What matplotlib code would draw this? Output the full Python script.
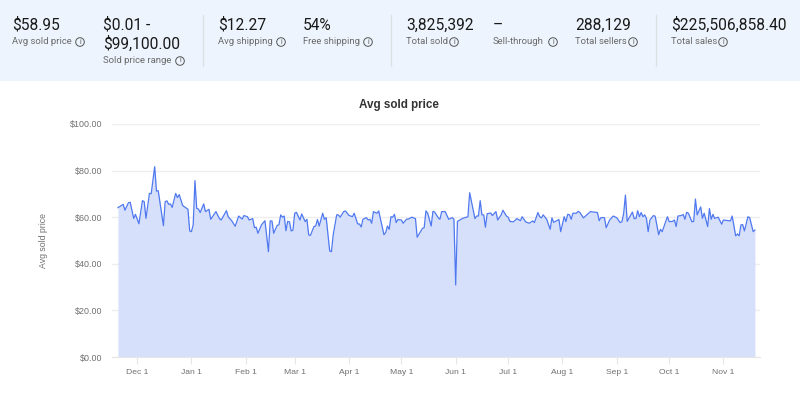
import numpy as np
import pandas as pd
import matplotlib
matplotlib.use("Agg")
import matplotlib.pyplot as plt
from matplotlib.patches import Rectangle, Circle

# values, day 0 = first day of the range
start_date = "2022-11-20"
days = [0, 3, 4, 6, 7, 9, 10, 12, 14, 15, 16, 18, 19, 21, 22, 23, 26, 27, 28, 29, 30, 31, 33, 34, 35, 37, 40, 41, 42, 43, 44, 45, 46, 47, 49, 50, 52, 53, 56, 58, 59, 62, 63, 65, 67, 69, 71, 72, 74, 75, 77, 78, 79, 80, 82, 84, 86, 87, 88, 89, 91, 92, 93, 94, 95, 96, 97, 98, 99, 100, 101, 102, 104, 105, 107, 108, 109, 110, 112, 113, 114, 115,
        117, 118, 119, 121, 122, 123, 125, 126, 127, 129, 130, 132, 134, 135, 137, 138, 139, 140, 142, 143, 144, 145, 146, 147, 148, 149, 152, 153, 154, 155, 156, 157, 158, 159, 160, 162, 163, 165, 166, 168, 170, 171, 174, 175, 176, 177, 179, 180, 181, 183, 184, 185, 187, 189, 191, 192, 193, 194, 197, 200, 201, 203, 204, 205, 206, 207, 208, 209, 210, 211, 213, 214, 216, 217, 219, 220, 222, 223, 224, 226, 228, 230, 231, 233, 235, 237, 238, 240, 241,
        242, 243, 245, 247, 248, 249, 252, 253, 255, 256, 257, 258, 259, 260, 262, 263, 264, 266, 270, 274, 275, 276, 278, 279, 281, 283, 285, 287, 288, 289, 290, 291, 294, 295, 296, 297, 298, 299, 300, 301, 302, 303, 304, 306, 307, 309, 310, 311, 314, 315, 317, 318, 319, 320, 322, 323, 324, 325, 326, 328, 329, 330, 331, 333, 334, 335, 337, 338, 339, 340, 341, 343, 345, 346, 350, 351, 353, 354, 355, 356, 357, 358, 360, 361, 363, 364]
prices = [64.1, 65.5, 63.0, 66.2, 66.4, 59.5, 61.2, 57.2, 67.1, 66.7, 59.5, 70.2, 70.1, 81.7, 71.2, 71.4, 56.4, 66.7, 67.0, 65.5, 65.7, 64.2, 70.2, 68.4, 69.7, 65.0, 63.4, 54.1, 53.8, 56.7, 75.7, 63.8, 63.5, 62.0, 65.7, 62.4, 63.4, 59.1, 62.4, 59.4, 58.8, 62.8, 60.2, 58.5, 56.1, 60.5, 59.2, 60.7, 60.2, 58.8, 59.4, 55.5, 55.7, 53.1, 56.7, 58.5, 45.2, 58.4, 58.4, 53.1, 56.5, 56.7, 61.0, 60.0, 60.5, 54.2, 58.2, 58.0, 54.1, 54.4, 61.7, 62.1, 58.8, 61.4, 58.1, 59.1, 52.4, 52.2, 56.0, 56.2, 59.0, 56.2,
          61.7, 59.1, 59.8, 45.5, 45.2, 52.4, 61.0, 61.0, 60.0, 62.4, 62.7, 60.8, 60.2, 61.7, 57.1, 57.1, 55.8, 59.1, 59.8, 58.8, 59.1, 57.4, 62.4, 62.0, 61.7, 62.7, 52.5, 53.4, 56.2, 54.8, 60.2, 60.0, 61.2, 57.7, 59.0, 58.8, 57.4, 59.2, 59.2, 60.0, 59.4, 51.4, 55.2, 55.5, 62.7, 61.7, 56.2, 62.5, 62.2, 59.8, 59.1, 62.4, 62.4, 59.1, 59.8, 59.1, 30.9, 58.2, 59.5, 60.2, 70.5, 63.1, 59.4, 60.5, 60.5, 67.1, 61.0, 61.0, 55.7, 61.5, 61.8, 60.7, 62.4, 58.8, 61.0, 63.0, 60.5, 60.0, 58.2, 58.0, 59.4, 58.5, 60.2, 58.0, 57.4, 58.4, 57.7, 62.0, 60.2,
          59.7, 61.0, 59.1, 54.8, 59.7, 57.8, 59.0, 53.8, 60.2, 58.1, 61.2, 61.1, 59.1, 61.7, 61.7, 62.5, 62.0, 59.7, 62.4, 62.0, 58.5, 59.8, 59.8, 55.5, 58.8, 60.5, 59.8, 57.7, 58.0, 61.7, 69.5, 58.2, 62.2, 59.4, 59.4, 62.8, 60.2, 62.0, 60.2, 61.0, 59.5, 53.8, 58.8, 60.7, 60.4, 52.5, 54.8, 53.8, 60.2, 58.1, 58.2, 58.8, 56.0, 60.5, 60.7, 61.2, 59.1, 62.1, 61.7, 58.0, 58.2, 67.8, 61.0, 64.4, 59.5, 61.7, 56.0, 63.7, 59.1, 61.2, 59.5, 60.0, 57.0, 58.8, 58.4, 60.5, 52.0, 52.8, 52.0, 56.7, 56.8, 54.1, 60.2, 59.8, 53.8, 54.5]

month_ticks = ["2022-12-01", "2023-01-01", "2023-02-01", "2023-03-01", "2023-04-01", "2023-05-01",
               "2023-06-01", "2023-07-01", "2023-08-01", "2023-09-01", "2023-10-01", "2023-11-01"]
month_labels = ["Dec 1", "Jan 1", "Feb 1", "Mar 1", "Apr 1", "May 1", "Jun 1", "Jul 1", "Aug 1", "Sep 1", "Oct 1", "Nov 1"]
y_ticks = [0, 20, 40, 60, 80, 100]

stat_values = ["$58.95", "$0.01 -\n$99,100.00", "$12.27", "54%", "3,825,392", "\u2013", "288,129", "$225,506,858.40"]
stat_labels = ["Avg sold price", "Sold price range", "Avg shipping", "Free shipping", "Total sold", "Sell-through", "Total sellers", "Total sales"]

W, H = 800, 393
fig = plt.figure(figsize=(W / 100, H / 100), dpi=100, facecolor="white")

# header strip, drawn in pixel coordinates
top = fig.add_axes([0, 0, 1, 1], zorder=2)
top.set_xlim(0, W)
top.set_ylim(H, 0)
top.axis("off")
top.patch.set_alpha(0)
top.add_patch(Rectangle((0, 0), W, 81, color="#edf4fd", lw=0))
for x in [203, 391, 656]:
    top.plot([x, x], [15, 66], color="#dce1e6", lw=1)

stat_x = [12, 103, 218, 303, 406, 493, 575, 671]
icon_x = [80, 180, 281, 368, 454, 553, 633, 723]
for i in range(len(stat_values)):
    lines = stat_values[i].split("\n")
    for j, line in enumerate(lines):
        top.text(stat_x[i], 29.5 + 19 * j, line, fontsize=11.2, family="Roboto", color="#191919", va="baseline")
    ly = 41.5 + 19 * (len(lines) - 1)
    top.text(stat_x[i], ly, stat_labels[i], fontsize=6.8, family="Roboto", color="#6a6a6a", va="center")
    top.add_patch(Circle((icon_x[i], ly + 0.5), 4.3, fc="none", ec="#555555", lw=0.7))
    top.text(icon_x[i], ly + 0.5, "i", fontsize=5, family="Roboto", color="#555555", ha="center", va="center")

# chart
ax = fig.add_axes([112 / W, 1 - 357 / H, (760 - 112) / W, (357 - 124) / H])
dates = pd.Timestamp(start_date) + pd.to_timedelta(days, unit="D")
ax.fill_between(dates, prices, 0, color="#d6e0fb", lw=0, zorder=2)
ax.plot(dates, prices, color="#5079f0", lw=0.9, zorder=3)
ax.set_ylim(0, 100)
ax.set_xlim(pd.Timestamp(start_date) - pd.Timedelta(days=3.4), pd.Timestamp(start_date) + pd.Timedelta(days=366.9))
ax.set_yticks(y_ticks)
ax.set_yticklabels(["$%.2f" % v for v in y_ticks], fontsize=6.4, family="Liberation Sans", color="#707070")
ax.set_xticks(pd.to_datetime(month_ticks))
ax.set_xticklabels(month_labels, fontsize=6.1, family="Liberation Sans", color="#707070")
ax.tick_params(axis="y", length=0, pad=7)
ax.tick_params(axis="x", length=5, width=0.8, color="#e6e6e6", pad=4)
ax.grid(axis="y", color="#eeeeee", lw=1, zorder=1)
ax.set_axisbelow(True)
for s in ["top", "right", "left"]:
    ax.spines[s].set_visible(False)
ax.spines["bottom"].set_color("#e6e6e6")

fig.text(399 / W, 1 - 105 / H, "Avg sold price", fontsize=8.4, fontweight="bold", family="Liberation Sans",
         color="#333333", ha="center", va="center")
fig.text(44 / W, 1 - 241 / H, "Avg sold price", fontsize=6.3, family="Liberation Sans", color="#707070",
         rotation=90, ha="center", va="center")

fig.savefig("out.png", dpi=100)
